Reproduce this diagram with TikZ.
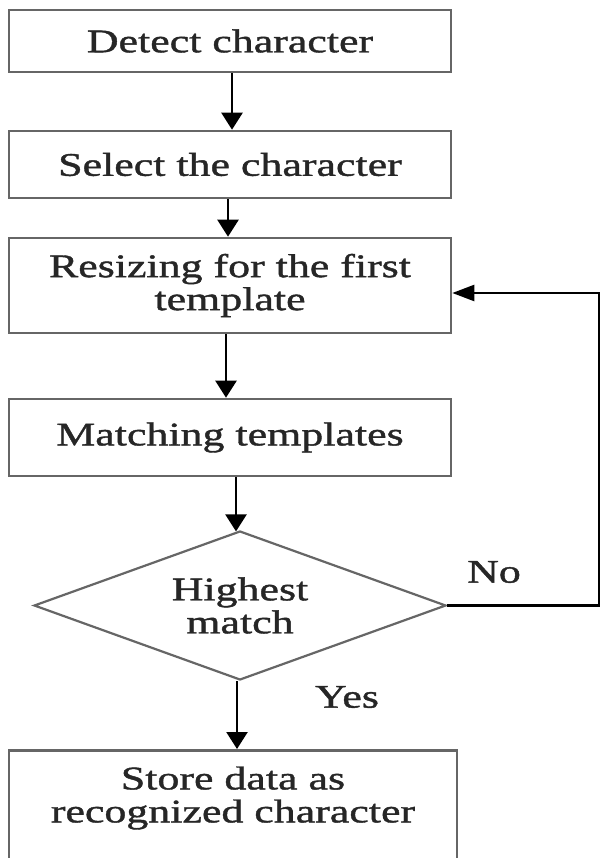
\documentclass[tikz,border=0pt]{standalone}
\usepackage{fontspec}
\setmainfont{Liberation Serif}[FakeStretch=1.33,FakeBold=1.2]
\usetikzlibrary{shapes.geometric,arrows.meta}
\definecolor{boxgray}{HTML}{666666}
\definecolor{txtcol}{HTML}{262626}
\newcommand\flowfont{\fontsize{33}{33}\selectfont}
\begin{document}
\begin{tikzpicture}[x=1pt,y=-1pt,
  stepbox/.style={draw=boxgray, line width=2.6pt, rectangle, minimum width=442pt,
    inner sep=0pt, align=center, font=\flowfont, text=txtcol},
  decision/.style={draw=boxgray, line width=2.2pt, diamond, shape aspect=2.77,
    minimum width=412pt, minimum height=149pt, inner sep=0pt, align=center,
    font=\flowfont, text=txtcol},
  lbl/.style={font=\flowfont, text=txtcol, inner sep=0pt, align=center},
  varr/.style={line width=2.4pt, -{Triangle[length=17pt,width=21pt]}},
  harr/.style={line width=2.4pt, -{Triangle[length=22pt,width=16pt]}}]
\useasboundingbox (0,0) rectangle (601,858);
\fill[white] (0,0) rectangle (601,858);

\node[stepbox, minimum height=62pt] (detect) at (230,41) {Detect character};
\node[stepbox, minimum height=67pt] (select) at (230,164.5) {Select the character};
\node[stepbox, minimum height=95pt] (resize) at (230,285.5) {Resizing for the first\\template};
\node[stepbox, minimum height=77pt] (match) at (230,437.5) {Matching templates};
\node[decision] (dia) at (240,605.5) {Highest\\match};
\node[stepbox, minimum width=448pt, minimum height=113pt, anchor=north] (store) at (233,749) {};
\node[lbl] (storetxt) at (233,798) {Store data as\\recognized character};

\node[lbl] (no) at (494,572) {No};
\node[lbl] (yes) at (347,697) {Yes};

\draw[varr] ([xshift=2pt]detect.south) -- ([xshift=2pt]detect.south |- select.north);
\draw[varr] ([xshift=-2pt]select.south) -- ([xshift=-2pt]select.south |- resize.north);
\draw[varr] ([xshift=-4pt]resize.south) -- ([xshift=-4pt]resize.south |- match.north);
\draw[varr] ([xshift=-4pt]match.south -| dia.north) -- ([xshift=-4pt,yshift=-1.5pt]dia.north);
\draw[varr] ([xshift=-3pt]dia.south) -- ([xshift=-3pt]dia.south |- store.north);

\coordinate (loopc) at (599,605.5);
\draw[harr] (dia.east) -- (loopc) |- ([yshift=-7.5pt]resize.east);
\end{tikzpicture}
\end{document}
